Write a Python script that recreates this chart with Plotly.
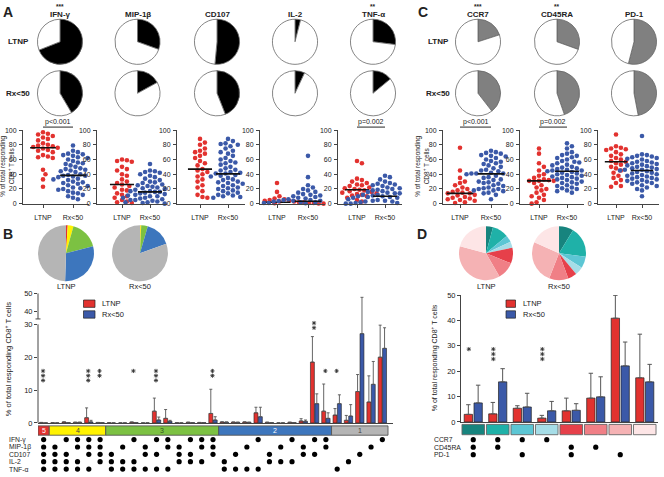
import plotly.graph_objects as go
import numpy as np

W, H = 664, 477
def X(p): return p / W
def Y(p): return 1 - p / H

FONT = "Liberation Sans"
INK = "#222222"
RED = "#e2322f"
BLUE = "#3b59a8"

# ---------------- data: panel A / C ----------------
GROUPS = ["LTNP", "Rx<50"]
A_MARKERS = ["IFN-γ", "MIP-1β", "CD107", "IL-2", "TNF-α"]
A_TITLE_STARS = ["***", "", "", "", "**"]
A_PIE_LTNP = [69.0, 30.5, 51.5, 4.0, 27.0]
A_PIE_RX = [41.5, 17.0, 44.0, 7.0, 14.0]
C_MARKERS = ["CCR7", "CD45RA", "PD-1"]
C_TITLE_STARS = ["***", "**", ""]
C_PIE_LTNP = [20.0, 30.5, 54.0]
C_PIE_RX = [39.5, 44.7, 47.0]

IFN_LTNP = [97, 95, 94, 92, 90, 88, 86, 82, 80, 79, 78, 77, 76, 75, 73, 72, 70, 66, 64, 63, 62, 46, 40, 33, 23]
IFN_RX = [79, 72, 70, 68, 67, 66, 65, 63, 62, 60, 58, 56, 55, 54, 52, 50, 48, 47, 46, 45, 44, 43, 42, 40, 39,
          38, 38, 37, 36, 35, 34, 33, 32, 30, 29, 28, 27, 25, 24, 22, 21, 20, 19, 17, 15, 14, 12, 10, 8, 6]
MIP_LTNP = [60, 59, 58, 57, 50, 47, 45, 40, 38, 33, 30, 28, 26, 24, 22, 19, 18, 14, 12, 10, 8, 5, 3, 2, 1]
MIP_RX = [54, 45, 44, 43, 42, 40, 38, 36, 34, 32, 30, 29, 28, 26, 25, 24, 23, 22, 21, 20, 19, 18, 17, 17, 16,
          16, 15, 14, 13, 12, 12, 11, 10, 10, 9, 8, 8, 7, 6, 6, 5, 5, 4, 3, 3, 2, 2, 1, 1, 0]
CD107_LTNP = [88, 83, 80, 75, 72, 70, 68, 65, 62, 58, 55, 52, 47, 45, 43, 40, 37, 33, 30, 25, 22, 17, 12, 9, 8]
CD107_RX = [88, 85, 82, 81, 80, 78, 75, 72, 70, 68, 65, 62, 60, 58, 56, 55, 53, 50, 48, 46, 45, 43, 42, 41, 41,
            40, 39, 38, 37, 35, 33, 32, 30, 29, 28, 27, 25, 24, 22, 21, 20, 18, 17, 15, 14, 12, 11, 10, 9, 8]
IL2_LTNP = [28, 16, 10, 7, 6, 5, 4, 4, 3, 3, 2.5, 2, 2, 2, 1, 1, 1, 1, 0.5, 0.5, 0.3, 0.2, 0, 0, 0]
IL2_RX = [65, 36, 25, 22, 20, 18, 16, 15, 13, 12, 11, 10, 9, 9, 8, 7, 6, 6, 5, 5, 4, 4, 3.8, 3.6, 3.6,
          3, 3, 2, 2, 2, 1, 1, 1, 1, 1, 0.5, 0.5, 0.5, 0.3, 0.3, 0.2, 0.2, 0.1, 0.1, 0, 0, 0, 0, 0, 0]
TNF_LTNP = [58, 55, 34, 32, 30, 28, 26, 25, 24, 22, 21, 20, 19, 18, 17, 16, 15, 14, 13, 12, 11, 10, 8, 5, 3]
TNF_RX = [38, 36, 33, 30, 28, 27, 26, 25, 24, 22, 21, 20, 19, 18, 17, 16, 15, 14, 14, 13, 12, 12, 11, 11, 10,
          10, 10, 9, 9, 8, 8, 7, 7, 6, 6, 5, 5, 4, 4, 3, 3, 2, 2, 1, 1, 1, 0.5, 0, 0, 0]
CCR7_LTNP = [76, 45, 35, 30, 28, 25, 22, 20, 18, 16, 15, 14, 14, 12, 11, 10, 9, 8, 7, 6, 5, 4, 3, 2, 1]
CCR7_RX = [72, 70, 69, 68, 66, 65, 64, 62, 60, 58, 57, 55, 54, 52, 50, 48, 46, 45, 44, 42, 41, 41, 41, 41, 41,
           40, 38, 36, 35, 33, 32, 30, 29, 28, 27, 25, 24, 22, 21, 20, 20, 19, 18, 18, 17, 16, 15, 14, 12, 6]
CD45RA_LTNP = [75, 68, 55, 50, 45, 40, 38, 35, 33, 32, 31, 31, 31, 28, 25, 22, 20, 18, 15, 12, 10, 8, 5, 2, 0]
CD45RA_RX = [82, 78, 75, 70, 68, 66, 65, 63, 62, 60, 58, 57, 56, 55, 53, 52, 50, 49, 48, 47, 46, 45, 45, 44, 44,
             44, 43, 42, 41, 40, 39, 38, 37, 36, 35, 34, 33, 32, 30, 29, 28, 27, 25, 24, 22, 21, 20, 18, 17, 15]
PD1_LTNP = [94, 78, 76, 75, 74, 73, 70, 67, 65, 62, 60, 58, 57, 55, 53, 50, 48, 45, 42, 38, 35, 32, 28, 24, 23]
PD1_RX = [92, 67, 66, 65, 64, 63, 62, 61, 60, 58, 57, 56, 55, 54, 53, 52, 51, 50, 49, 48, 47, 46, 46, 45, 45,
          45, 44, 43, 42, 41, 40, 39, 38, 37, 36, 35, 34, 33, 32, 31, 30, 29, 28, 27, 25, 24, 22, 20, 18, 10]
P_VALUES = {"IFN-γ": "p<0.001", "TNF-α": "p=0.002", "CCR7": "p<0.001", "CD45RA": "p=0.002"}

# ---------------- data: panel B ----------------
B_FUNCTIONS = ["IFN-γ", "MIP-1β", "CD107", "IL-2", "TNF-α"]
B_COMBOS = ["11111", "01111", "10111", "11011", "11101", "11110",
            "00111", "01011", "10011", "01101", "10101", "11001", "01110", "10110", "11010", "11100",
            "00011", "00101", "01001", "10001", "00110", "01010", "10010", "01100", "10100", "11000",
            "00001", "00010", "00100", "01000", "10000"]
B_LTNP = [0.15, 0.05, 0.3, 0.2, 1.6, 0.15, 0.05, 0.0, 0.25, 0.0, 3.6, 1.4, 0.05, 0.2, 0.15, 2.9,
          0.3, 0.25, 0.3, 3.1, 0.2, 0.0, 0.2, 0.6, 18.6, 3.6, 2.4, 0.8, 9.6, 6.4, 20.1]
B_LTNP_ERR = [0, 0, 0, 0, 3.0, 0, 0, 0, 0, 0, 4.0, 2.7, 0, 0, 0, 7.4,
              0, 0, 0, 1.7, 0, 0, 0, 0.7, 7.8, 8.3, 2.0, 1.5, 5.2, 8.0, 9.8]
B_RX = [0.0, 0.0, 0.1, 0.2, 0.3, 0.1, 0.0, 0.0, 0.1, 0.0, 0.9, 0.5, 0.0, 0.1, 0.1, 0.9,
        0.25, 0.2, 0.2, 1.9, 0.1, 0.0, 0.1, 0.5, 5.9, 1.4, 5.9, 2.1, 27.3, 11.8, 22.8]
B_RX_ERR = [0, 0, 0, 0, 0.5, 0, 0, 0, 0, 0, 0.9, 0.3, 0, 0, 0, 1.0,
            0, 0, 0, 2.9, 0, 0, 0, 0.4, 3.0, 1.7, 2.7, 3.5, 20.5, 7.0, 6.3]
B_STARS = {0: 3, 4: 3, 5: 2, 8: 1, 10: 3, 15: 2, 24: 2, 25: 1, 26: 1, 28: 3}
B_GROUP_NAMES = ["5", "4", "3", "2", "1"]
B_GROUP_COLORS = ["#e2322f", "#fff200", "#7cc142", "#3d76bd", "#b5b5b5"]
B_GROUP_TEXT = ["#ffffff", "#444444", "#335522", "#ffffff", "#444444"]
B_PIE_LTNP = [1.0, 3.3, 16.7, 29.5, 49.5]
B_PIE_RX = [0.2, 0.5, 3.8, 15.0, 80.5]

# ---------------- data: panel D ----------------
D_MARKERS = ["CCR7", "CD45RA", "PD-1"]
D_COMBOS = ["111", "110", "101", "100", "011", "010", "001", "000"]
D_COLORS = ["#17847e", "#1fb1a8", "#5cc6d4", "#a6dde7", "#e6404a", "#f07f86", "#f5b2b4", "#fde5e6"]
D_LTNP = [3.0, 3.2, 5.4, 1.5, 4.4, 9.4, 40.9, 17.4]
D_LTNP_ERR = [3.8, 4.5, 1.0, 1.1, 5.0, 9.8, 9.0, 17.2]
D_RX = [7.5, 15.8, 5.9, 4.4, 4.6, 9.9, 22.1, 15.8]
D_RX_ERR = [7.0, 5.2, 5.4, 3.7, 2.6, 7.9, 9.4, 6.9]
D_STARS = {0: 1, 1: 3, 3: 3, 6: 2}
D_PIE_LTNP = [4.2, 9.7, 4.2, 3.6, 9.4, 10.6, 37.5, 20.8]
D_PIE_RX = [8.7, 18.4, 6.9, 5.1, 5.3, 11.5, 25.7, 18.4]

# ---------------- helpers ----------------
fig = go.Figure()
layout = {}
shapes = []
annotations = []


def ann(text, x, y, size=7.0, bold=False, xanchor="center", yanchor="middle", color=INK,
        angle=0, xref="paper", yref="paper"):
    t = f"<b>{text}</b>" if bold else text
    annotations.append(dict(text=t, x=x, y=y, xref=xref, yref=yref, showarrow=False,
                            xanchor=xanchor, yanchor=yanchor, textangle=angle, borderpad=0,
                            font=dict(family=FONT, size=size, color=color)))


def pline(x0, y0, x1, y1, color=INK, width=1.0, xref="paper", yref="paper"):
    shapes.append(dict(type="line", x0=x0, y0=y0, x1=x1, y1=y1, xref=xref, yref=yref,
                       line=dict(color=color, width=width)))


def add_pie(cx, cy, r, values, colors, lc="#666666", lw=0.8):
    fig.add_trace(go.Pie(values=values, marker=dict(colors=colors, line=dict(color=lc, width=lw)),
                         domain=dict(x=[X(cx - r), X(cx + r)], y=[Y(cy + r), Y(cy - r)]),
                         sort=False, direction="clockwise", rotation=0, textinfo="none",
                         hoverinfo="skip", showlegend=False))


def axkey(kind, n):
    return f"{kind}axis" + ("" if n == 1 else str(n))


def ref(kind, n):
    return kind + ("" if n == 1 else str(n))


def swarm(vals, sx, sy, d=4.9):
    v = np.asarray(vals, float)
    order = np.argsort(-v, kind="stable")
    placed, off = [], np.zeros(len(v))
    steps = [0.0]
    for j in range(1, 40):
        steps += [j * d * 0.5, -j * d * 0.5]
    for i in order:
        yp = v[i] * sy
        c = 0.0
        for c in steps:
            if all((c - a) ** 2 + (yp - b) ** 2 >= d * d * 0.9 for a, b in placed):
                break
        placed.append((c, yp))
        off[i] = c / sx
    return off


base_axis = dict(showgrid=False, zeroline=False, showline=True, linecolor="#444444", linewidth=1,
                 ticks="outside", ticklen=3, tickcolor="#444444", tickwidth=1,
                 tickfont=dict(family=FONT, size=7, color=INK))

# ---------------- panel letters ----------------
ann("A", X(8), Y(8), size=14, bold=True)
ann("C", X(423), Y(8), size=14, bold=True)
ann("B", X(8), Y(234), size=14, bold=True)
ann("D", X(422), Y(234), size=14, bold=True)

# ---------------- pies A / C ----------------
A_PIE_X = [60, 137.5, 217, 295, 373]
C_PIE_X = [478, 557, 634]
PIE_Y = [38.5, 91]
PIE_R = 23
for cx, name, st, l, r in zip(A_PIE_X, A_MARKERS, A_TITLE_STARS, A_PIE_LTNP, A_PIE_RX):
    add_pie(cx, PIE_Y[0], PIE_R, [l, 100 - l], ["#000000", "#ffffff"])
    add_pie(cx, PIE_Y[1], PIE_R, [r, 100 - r], ["#000000", "#ffffff"])
    ann(name, X(cx), Y(11), size=8, bold=True)
    if st:
        ann(st, X(cx), Y(-2.2), size=6.5, bold=True, yanchor="top")
for cx, name, st, l, r in zip(C_PIE_X, C_MARKERS, C_TITLE_STARS, C_PIE_LTNP, C_PIE_RX):
    add_pie(cx, PIE_Y[0], PIE_R, [l, 100 - l], ["#808080", "#ffffff"])
    add_pie(cx, PIE_Y[1], PIE_R, [r, 100 - r], ["#808080", "#ffffff"])
    ann(name, X(cx), Y(11), size=8, bold=True)
    if st:
        ann(st, X(cx), Y(-2.2), size=6.5, bold=True, yanchor="top")
for lx in (18, 438):
    ann(GROUPS[0], X(lx), Y(38), size=8, bold=True)
    ann(GROUPS[1], X(lx), Y(91), size=8, bold=True)

# ---------------- scatter panels A / C ----------------
SCATTER_GEOM = [(23, 43, 73, 89), (97, 122, 150, 167), (177, 200, 228, 245), (260, 277, 308, 325),
                (338, 357, 385, 402), (443, 460, 491, 508), (520, 539, 567, 584), (598, 616, 642, 659)]
SCATTER_DATA = [(IFN_LTNP, IFN_RX), (MIP_LTNP, MIP_RX), (CD107_LTNP, CD107_RX), (IL2_LTNP, IL2_RX),
                (TNF_LTNP, TNF_RX), (CCR7_LTNP, CCR7_RX), (CD45RA_LTNP, CD45RA_RX), (PD1_LTNP, PD1_RX)]
SCATTER_NAMES = A_MARKERS + C_MARKERS
SC_TOP, SC_BOT = 128.5, 203.5
for k, (geom, data, name) in enumerate(zip(SCATTER_GEOM, SCATTER_DATA, SCATTER_NAMES)):
    n = k + 1
    ax0, lx, rx, ex = geom
    sx = rx - lx
    layout[axkey("x", n)] = dict(base_axis, domain=[X(ax0), X(ex)],
                                 range=[(ax0 - lx) / sx, (ex - lx) / sx],
                                 tickvals=[0, 1], ticktext=GROUPS, anchor=ref("y", n),
                                 ticklabelstandoff=4)
    layout[axkey("y", n)] = dict(base_axis, domain=[Y(SC_BOT), Y(SC_TOP)], range=[0, 100],
                                 tickvals=[0, 20, 40, 60, 80, 100], anchor=ref("x", n),
                                 ticklabelstandoff=1)
    for g, (vals, col) in enumerate(zip(data, (RED, BLUE))):
        offs = swarm(vals, sx, (SC_BOT - SC_TOP) / 100.0)
        fig.add_trace(go.Scatter(x=g + offs, y=vals, mode="markers", xaxis=ref("x", n), yaxis=ref("y", n),
                                 marker=dict(color=col, size=4.6, line=dict(width=0)),
                                 cliponaxis=False, hoverinfo="skip", showlegend=False))
        med = float(np.median(vals))
        fig.add_trace(go.Scatter(x=[g - 0.43, g + 0.43], y=[med, med], mode="lines",
                                 xaxis=ref("x", n), yaxis=ref("y", n),
                                 line=dict(color="#111111", width=1.6), cliponaxis=False,
                                 hoverinfo="skip", showlegend=False))
    if name in P_VALUES:
        pline(0, Y(125.5), 1, Y(125.5), color="#777777", width=1.6, xref=ref("x", n))
        ann(P_VALUES[name], (lx + rx) / 2 / W, Y(120.5), size=7)

ytitle2 = "% of total responding<br>CD8<sup>+</sup> T cells"
ann(ytitle2, X(7), Y(166), size=6.5, angle=-90)
ann(ytitle2, X(422), Y(166), size=6.5, angle=-90)

# ---------------- panel B ----------------
add_pie(66, 254, 28.5, B_PIE_LTNP, B_GROUP_COLORS, lc="#ffffff", lw=0)
add_pie(140, 254, 28.5, B_PIE_RX, B_GROUP_COLORS, lc="#ffffff", lw=0)
ann(GROUPS[0], X(66), Y(288), size=7.5)
ann(GROUPS[1], X(140), Y(288), size=7.5)


def brk(v):
    if v <= 30:
        return v
    if v >= 40:
        return 34.2 + (v - 40) * 0.54
    return 30 + (v - 30) * 0.42


B_X0, B_X1, B_Y0, B_Y1 = 38, 393, 427, 295
nB = len(B_COMBOS)
b_step = (388 - B_X0) / nB
b_range = [-0.5, nB - 0.5 + (B_X1 - 388) / b_step]
layout["xaxis9"] = dict(base_axis, domain=[X(B_X0), X(B_X1)], range=b_range, ticks="",
                        showticklabels=False, anchor="y9")
b_ticks = [0, 10, 20, 30, 40, 50]
layout["yaxis9"] = dict(base_axis, domain=[Y(B_Y0), Y(B_Y1)], range=[0, brk(50)], showline=False,
                        tickvals=[brk(t) for t in b_ticks], ticktext=[str(t) for t in b_ticks],
                        anchor="x9", tickfont=dict(family=FONT, size=7.5, color=INK))
bx = list(range(nB))
for vals, errs, col, off in ((B_LTNP, B_LTNP_ERR, RED, -0.37), (B_RX, B_RX_ERR, BLUE, 0.02)):
    yv = [brk(v) for v in vals]
    up = [brk(v + e) - brk(v) for v, e in zip(vals, errs)]
    fig.add_trace(go.Bar(x=bx, y=yv, width=0.35, offset=off, xaxis="x9", yaxis="y9",
                         marker=dict(color=col, line=dict(color="#222222", width=0.6)),
                         error_y=dict(type="data", symmetric=False, array=up, arrayminus=[0] * nB,
                                      color="#555555", thickness=0.9, width=1.5),
                         hoverinfo="skip", showlegend=False, cliponaxis=False))
# broken y-axis line
pline(X(B_X0), Y(427), X(B_X0), Y(326.5), color="#444444")
pline(X(B_X0), Y(321), X(B_X0), Y(295), color="#444444")
pline(X(B_X0 - 2.5), Y(321), X(B_X0 + 2.5), Y(321), color="#444444")
ann("% of total responding CD8<sup>+</sup> T cells", X(8), Y(362), size=7.5, angle=-90)
# significance stars (stacked)
sx_, sy_ = [], []
for i, nst in B_STARS.items():
    top_err = max(brk(B_LTNP[i] + B_LTNP_ERR[i]), brk(B_RX[i] + B_RX_ERR[i]))
    bottom = top_err + 9 / 3.333
    top = bottom + (nst - 1) * 1.45
    if top < 15.9:
        top = 15.9
    for s in range(nst):
        sx_.append(i - 0.05)
        sy_.append(top - s * 1.45)
fig.add_trace(go.Scatter(x=sx_, y=sy_, mode="markers", xaxis="x9", yaxis="y9", cliponaxis=False,
                         marker=dict(symbol="asterisk-open", size=3.5, color="#333333",
                                     line=dict(color="#333333", width=0.9)),
                         hoverinfo="skip", showlegend=False))
# function-count boxes
counts = [c.count("1") for c in B_COMBOS]
for gi, gname in enumerate(B_GROUP_NAMES):
    idx = [i for i, c in enumerate(counts) if str(c) == gname]
    x0, x1 = min(idx) - 0.5, max(idx) + 0.5
    shapes.append(dict(type="rect", xref="x9", yref="paper", x0=x0, x1=x1, y0=Y(439.5), y1=Y(430),
                       fillcolor=B_GROUP_COLORS[gi], line=dict(color="#555555", width=0.9)))
    ann(gname, (x0 + x1) / 2, Y(435), size=7, color=B_GROUP_TEXT[gi], xref="x9")
# dot matrix
layout["yaxis10"] = dict(domain=[Y(477), Y(440)], range=[4.4, -0.533], visible=False, anchor="x9")
mx, my = [], []
for i, c in enumerate(B_COMBOS):
    for r, bit in enumerate(c):
        if bit == "1":
            mx.append(i)
            my.append(r)
fig.add_trace(go.Scatter(x=mx, y=my, mode="markers", xaxis="x9", yaxis="y10", cliponaxis=False,
                         marker=dict(color="#000000", size=5.2), hoverinfo="skip", showlegend=False))
for r, fname in enumerate(B_FUNCTIONS):
    ann(fname, X(8), Y(444 + 7.5 * r), size=6.8, xanchor="left")
# legend B
for j, (g, col) in enumerate(zip(GROUPS, (RED, BLUE))):
    yy = 301.7 + 11 * j
    shapes.append(dict(type="rect", xref="paper", yref="paper", x0=X(83.5), x1=X(95), y0=Y(yy + 7.5),
                       y1=Y(yy), fillcolor=col, line=dict(color="#222222", width=0.7)))
    ann(g, X(101), Y(yy + 3.8), size=7.5, xanchor="left")

# ---------------- panel D ----------------
add_pie(486, 254, 27.5, D_PIE_LTNP, D_COLORS, lc="#ffffff", lw=0)
add_pie(559, 254, 27.5, D_PIE_RX, D_COLORS, lc="#ffffff", lw=0)
ann(GROUPS[0], X(486), Y(288), size=7.5)
ann(GROUPS[1], X(559), Y(288), size=7.5)

D_X0, D_X1, D_Y0, D_Y1 = 461, 658, 426, 296.7
nD = len(D_COMBOS)
layout["xaxis11"] = dict(base_axis, domain=[X(D_X0), X(D_X1)], range=[-0.5, nD - 0.5 + 1 / 24.5],
                         ticks="", showticklabels=False, anchor="y11")
layout["yaxis11"] = dict(base_axis, domain=[Y(D_Y0), Y(D_Y1)], range=[0, 50],
                         tickvals=[0, 10, 20, 30, 40, 50], anchor="x11",
                         tickfont=dict(family=FONT, size=7.5, color=INK))
dx = list(range(nD))
for vals, errs, col, off in ((D_LTNP, D_LTNP_ERR, RED, -0.37), (D_RX, D_RX_ERR, BLUE, 0.03)):
    fig.add_trace(go.Bar(x=dx, y=vals, width=0.34, offset=off, xaxis="x11", yaxis="y11",
                         marker=dict(color=col, line=dict(color="#222222", width=0.7)),
                         error_y=dict(type="data", symmetric=False, array=errs, arrayminus=[0] * nD,
                                      color="#555555", thickness=1, width=2.2),
                         hoverinfo="skip", showlegend=False, cliponaxis=False))
ann("% of total responding CD8<sup>+</sup> T cells", X(434), Y(361), size=7, angle=-90)
sx_, sy_ = [], []
for i, nst in D_STARS.items():
    top_err = max(D_LTNP[i] + D_LTNP_ERR[i], D_RX[i] + D_RX_ERR[i])
    bottom = top_err + 8 / 2.586
    top = bottom + (nst - 1) * 1.95
    if top < 28.7:
        top = 28.7
    for s in range(nst):
        sx_.append(i - 0.18)
        sy_.append(top - s * 1.95)
fig.add_trace(go.Scatter(x=sx_, y=sy_, mode="markers", xaxis="x11", yaxis="y11", cliponaxis=False,
                         marker=dict(symbol="asterisk-open", size=3.5, color="#333333",
                                     line=dict(color="#333333", width=0.9)),
                         hoverinfo="skip", showlegend=False))
for i, col in enumerate(D_COLORS):
    shapes.append(dict(type="rect", xref="x11", yref="paper", x0=i - 0.46, x1=i + 0.46,
                       y0=Y(439), y1=Y(428.5), fillcolor=col, line=dict(color="#666666", width=0.9)))
layout["yaxis12"] = dict(domain=[Y(464), Y(440)], range=[2.614, -0.523], visible=False, anchor="x11")
mx, my = [], []
for i, c in enumerate(D_COMBOS):
    for r, bit in enumerate(c):
        if bit == "1":
            mx.append(i)
            my.append(r)
fig.add_trace(go.Scatter(x=mx, y=my, mode="markers", xaxis="x11", yaxis="y12", cliponaxis=False,
                         marker=dict(color="#000000", size=5.2), hoverinfo="skip", showlegend=False))
for r, m in enumerate(D_MARKERS):
    ann(m, X(433), Y(444 + 7.65 * r), size=6.8, xanchor="left")
for j, (g, col) in enumerate(zip(GROUPS, (RED, BLUE))):
    yy = 301.7 + 11 * j
    shapes.append(dict(type="rect", xref="paper", yref="paper", x0=X(506), x1=X(515.5), y0=Y(yy + 7.5),
                       y1=Y(yy), fillcolor=col, line=dict(color="#222222", width=0.7)))
    ann(g, X(522), Y(yy + 3.8), size=7.5, xanchor="left")

fig.update_layout(**layout)
fig.update_layout(width=W, height=H, margin=dict(l=0, r=0, t=0, b=0), paper_bgcolor="white",
                  plot_bgcolor="rgba(0,0,0,0)", showlegend=False, shapes=shapes,
                  annotations=annotations, font=dict(family=FONT, size=7, color=INK))
fig.write_html("out.html", config={"displayModeBar": False},
               post_script="document.body.style.margin='0';document.body.style.overflow='hidden';")
